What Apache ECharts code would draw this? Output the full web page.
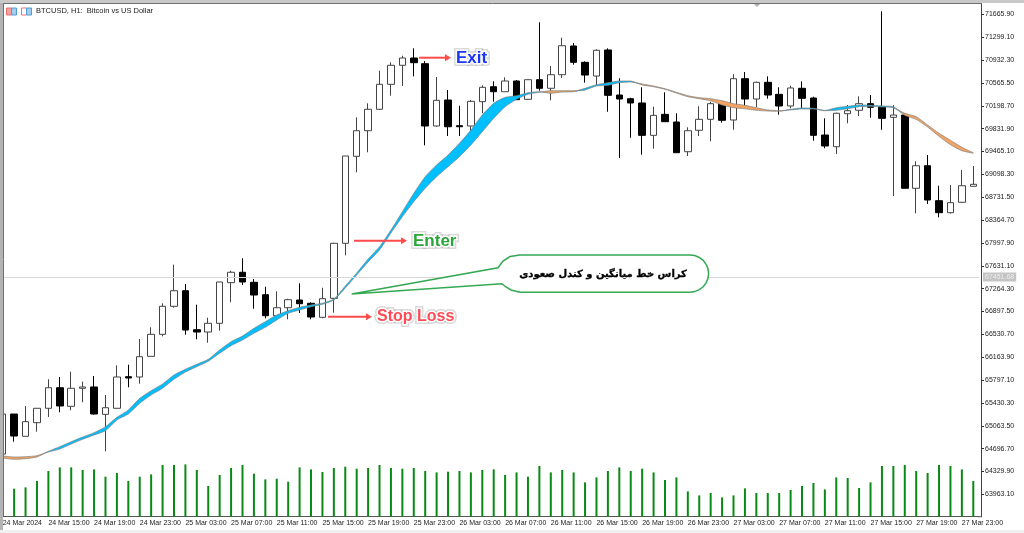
<!DOCTYPE html>
<html>
<head>
<meta charset="utf-8">
<style>
  html, body { margin: 0; padding: 0; background: #fff; }
  #chart { width: 1024px; height: 533px; }
</style>
<script src="https://cdn.jsdelivr.net/npm/echarts@6/dist/echarts.min.js"></script>
</head>
<body>
<div id="chart"></div>
<script>
const tickLabels = [
  '24 Mar 2024', '24 Mar 15:00', '24 Mar 19:00', '24 Mar 23:00',
  '25 Mar 03:00', '25 Mar 07:00', '25 Mar 11:00', '25 Mar 15:00', '25 Mar 19:00', '25 Mar 23:00',
  '26 Mar 03:00', '26 Mar 07:00', '26 Mar 11:00', '26 Mar 15:00', '26 Mar 19:00', '26 Mar 23:00',
  '27 Mar 03:00', '27 Mar 07:00', '27 Mar 11:00', '27 Mar 15:00', '27 Mar 19:00', '27 Mar 23:00'
];

const priceTicks = [
  71665.9, 71299.1, 70932.3, 70565.5, 70198.7, 69831.9, 69465.1, 69098.3, 68731.5, 68364.7, 67997.9,
  67631.1, 67264.3, 66897.5, 66530.7, 66163.9, 65797.1, 65430.3, 65063.5, 64696.7, 64329.9, 63963.1
];

const bidPrice = 67451.68;

const opens = [
  64610, 65252, 64894, 65113, 65344, 65674, 65376, 65665, 65686, 65247,
  65344, 65851, 65846, 66178, 66531, 66981, 67231, 66605, 66568, 66708,
  67360, 67527, 67366, 67167, 66830, 66958, 67082, 67029, 66804, 67109,
  67992, 69388, 69799, 70143, 70544, 70849, 70966, 70875, 69875, 70292,
  69880, 69875, 70265, 70505, 70425, 70597, 70303, 70618, 70480, 70698,
  71159, 70897, 70677, 71095, 70372, 70313, 70244, 69725, 70062, 69939,
  69462, 69806, 69982, 70233, 69971, 70634, 70308, 70576, 70383, 70196,
  70480, 70324, 69730, 69542, 70072, 70127, 70233, 70184, 70014, 70051,
  68875, 69237, 68676, 68483, 68650, 68907
];
const closes = [
  65252, 64899, 65129, 65344, 65674, 65381, 65665, 65686, 65252, 65353,
  65846, 65830, 66172, 66531, 66981, 67231, 66600, 66568, 66708, 67371,
  67527, 67371, 67162, 66830, 66958, 67087, 67023, 66809, 67103, 67992,
  69393, 69799, 70143, 70544, 70849, 70966, 70891, 69875, 70287, 69863,
  69863, 70271, 70496, 70425, 70597, 70297, 70618, 70480, 70698, 71163,
  70897, 70693, 71090, 70367, 70308, 70244, 69725, 70046, 69944, 69446,
  69799, 69982, 70233, 69966, 70634, 70308, 70576, 70372, 70196, 70485,
  70319, 69725, 69554, 70079, 70120, 70233, 70175, 69998, 70051, 68875,
  69237, 68687, 68483, 68644, 68916, 68939
];
const lows = [
  64546, 64808, 64894, 64968, 65204, 65280, 65312, 65440, 65241, 64654,
  65344, 65681, 65739, 66178, 66499, 66958, 66525, 66451, 66397, 66589,
  67045, 67323, 66942, 66788, 66793, 66772, 66873, 66772, 66788, 66878,
  67799, 69132, 69453, 70132, 70361, 70517, 70672, 69565, 69863, 69714,
  69714, 69783, 70079, 70265, 70425, 70292, 70292, 70441, 70287, 70645,
  70859, 70570, 70517, 70104, 69361, 69687, 69414, 69510, 69944, 69446,
  69393, 69714, 69629, 69928, 69815, 70196, 70175, 70313, 70056, 70159,
  70164, 69639, 69517, 69425, 69918, 70035, 70008, 69815, 68751, 68875,
  68473, 68623, 68409, 68470, 68639, 68907
];
const highs = [
  65268, 65252, 65381, 65349, 65809, 65846, 65931, 65771, 65862, 65557,
  66034, 66044, 66456, 66644, 67029, 67649, 67339, 67007, 66798, 67371,
  67552, 67751, 67419, 67295, 67222, 67103, 67350, 67045, 67279, 68000,
  69393, 70014, 70239, 70762, 70897, 71003, 71122, 70918, 70661, 70453,
  70200, 70292, 70528, 70592, 70656, 70613, 70618, 71539, 70838, 71292,
  71207, 70913, 71106, 71122, 70640, 70329, 70496, 70184, 70416, 70079,
  69854, 70191, 70265, 70265, 70705, 70741, 70586, 70672, 70496, 70521,
  70592, 70345, 69998, 70088, 70212, 70351, 70372, 71716, 70212, 70079,
  69308, 69409, 68916, 68928, 69169, 69233
];

const emaFast = [
  64546, 64525, 64535, 64562, 64654, 64728, 64808, 64883, 64952, 65048,
  65199, 65316, 65504, 65626, 65734, 65878, 65970, 66050, 66130, 66280,
  66413, 66504, 66628, 66734, 66841, 66910, 66965, 67002, 67029, 67098,
  67307, 67515, 67740, 67937, 68205, 68499, 68794, 69061, 69249, 69409,
  69597, 69810, 70051, 70239, 70335, 70361, 70409, 70425, 70400, 70420,
  70425, 70480, 70538, 70570, 70597, 70597, 70533, 70505, 70464, 70404,
  70345, 70313, 70281, 70212, 70168, 70152, 70127, 70115, 70111, 70143,
  70164, 70159, 70125, 70168, 70191, 70212, 70207, 70196, 70184, 70046,
  69982, 69859, 69709, 69575, 69478, 69437
];
const emaSlow = [
  64578, 64562, 64567, 64583, 64642, 64691, 64771, 64846, 64915, 64984,
  65156, 65252, 65424, 65557, 65665, 65809, 65926, 66012, 66098, 66227,
  66349, 66440, 66548, 66644, 66761, 66869, 66922, 66974, 67013, 67082,
  67275, 67483, 67692, 67884, 68157, 68419, 68660, 68875, 69061, 69221,
  69382, 69570, 69783, 69998, 70184, 70303, 70383, 70416, 70441, 70441,
  70441, 70453, 70517, 70528, 70570, 70581, 70549, 70517, 70473, 70416,
  70361, 70329, 70313, 70281, 70233, 70207, 70168, 70132, 70120, 70132,
  70148, 70148, 70120, 70127, 70152, 70184, 70191, 70180, 70168, 70079,
  70024, 69891, 69758, 69645, 69533, 69446
];

const volumes = [
  3000, 2800, 2930, 3570, 4570, 4930, 4930, 4670, 4730, 4000,
  4370, 3570, 4000, 4230, 5170, 5170, 5230, 4670, 3070, 4170,
  4870, 5170, 4300, 3730, 3800, 3500, 4930, 4730, 4470, 4870,
  5000, 4800, 4870, 5170, 4870, 4800, 4870, 4570, 4430, 4500,
  4570, 4430, 4670, 4730, 4170, 4430, 4000, 5070, 4430, 4670,
  4430, 3430, 3930, 4570, 4930, 4570, 4800, 4430, 3670, 3930,
  2530, 2130, 2370, 1930, 2130, 2830, 2370, 2370, 2370, 2670,
  3070, 3370, 2730, 3930, 3870, 2870, 3430, 5070, 5070, 5170,
  4570, 4370, 5170, 5070, 4730, 3570
];

const categories = opens.map((_, i) => (i % 4 === 0 ? tickLabels[i / 4] : ''));
const candles = opens.map((o, i) => [o, closes[i], lows[i], highs[i]]);

// band between the two averages: blue while the fast one is on top, orange otherwise
const bandBase = emaFast.map((v, i) => Math.min(v, emaSlow[i]));
const bandUp = emaFast.map((v, i) => Math.max(v - emaSlow[i], 0));
const bandDown = emaFast.map((v, i) => Math.max(emaSlow[i] - v, 0));

const AXIS_FONT = '"Liberation Sans", sans-serif';

// gray halo under a white one, then the coloured text
function glowText(x, y, text, color, size) {
  const font = 'bold ' + size + 'px "Liberation Sans", sans-serif';
  const layer = (fill, stroke, width, z) => ({
    type: 'text', x: x, y: y, z: z,
    style: { text: text, fill: fill, font: font, textVerticalAlign: 'middle', stroke: stroke, lineWidth: width }
  });
  return [
    layer('#fff', 'rgba(170,170,170,0.45)', 6, 60),
    layer('#fff', '#fff', 3, 61),
    { type: 'text', x: x, y: y, z: 62, style: { text: text, fill: color, font: font, textVerticalAlign: 'middle' } }
  ];
}

function arrow(x1, x2, y) {
  return [
    { type: 'line', z: 60, shape: { x1: x1, y1: y, x2: x2 - 4, y2: y }, style: { stroke: '#ff4b4b', lineWidth: 2 } },
    { type: 'polygon', z: 60, shape: { points: [[x2, y], [x2 - 6, y - 3.5], [x2 - 6, y + 3.5]] }, style: { fill: '#ff4b4b' } }
  ];
}

const calloutOutline = [
  [351.7, 294], [498, 267.7], [503, 261], [510, 256.5], [520, 255], [690, 255],
  [694.8, 255.6], [699.3, 257.5], [703.2, 260.4], [706.1, 264.3], [708, 268.8], [708.6, 273.6],
  [708, 278.4], [706.1, 282.9], [703.2, 286.8], [699.3, 289.7], [694.8, 291.6], [690, 292.2],
  [520, 292.2], [511, 290], [506, 287], [501.7, 283.7]
];

const chart = echarts.init(document.getElementById('chart'), null, { renderer: 'canvas' });

chart.setOption({
  backgroundColor: '#fff',
  animation: false,
  grid: { left: -3, top: 3, width: 982, height: 513.7, containLabel: false, outerBoundsMode: 'none' },
  xAxis: {
    type: 'category',
    data: categories,
    boundaryGap: true,
    axisLine: { lineStyle: { color: '#555', width: 1 } },
    axisTick: { alignWithLabel: true, interval: 3, length: 3, lineStyle: { color: '#333' } },
    axisLabel: {
      interval: 3, align: 'left', margin: 3, color: '#222',
      fontFamily: AXIS_FONT, fontSize: 7, hideOverlap: false
    },
    splitLine: { show: false }
  },
  yAxis: [
    {
      type: 'value', position: 'right', offset: 2, min: 63604, max: 71849, scale: true,
      axisLine: { show: true, lineStyle: { color: '#444', width: 1 } },
      axisTick: { show: true, length: 3, customValues: priceTicks, lineStyle: { color: '#333' } },
      axisLabel: {
        customValues: priceTicks, margin: 4, color: '#222',
        fontFamily: AXIS_FONT, fontSize: 7,
        formatter: (value) => value.toFixed(2)
      },
      splitLine: { show: false }
    },
    { type: 'value', min: 0, max: 51370, show: false, splitLine: { show: false } }
  ],
  series: [
    {
      name: 'Volume', type: 'bar', yAxisIndex: 1, data: volumes, barWidth: 2, z: 1,
      itemStyle: { color: '#0a8a14' }
    },
    {
      name: 'BTCUSD', type: 'candlestick', data: candles, barWidth: 7, z: 2, clip: false,
      itemStyle: {
        color: '#ffffff', color0: '#000000',
        borderColor: '#444444', borderColor0: '#000000', borderWidth: 1
      },
      markLine: {
        silent: true, symbol: 'none', animation: false,
        lineStyle: { color: '#d9d9d9', width: 1, type: 'solid' },
        label: {
          position: 'end', distance: 4, formatter: () => bidPrice.toFixed(2),
          color: '#ececec', backgroundColor: '#c4c4c4', padding: [1, 2],
          fontFamily: AXIS_FONT, fontSize: 7
        },
        data: [{ yAxis: bidPrice }]
      }
    },
    {
      name: 'bandBase', type: 'line', stack: 'band', data: bandBase, symbol: 'none', z: 3, smooth: 0.2,
      lineStyle: { width: 0, opacity: 0 }, areaStyle: { opacity: 0 }
    },
    {
      name: 'bandUp', type: 'line', stack: 'band', data: bandUp, symbol: 'none', z: 3, smooth: 0.2,
      lineStyle: { width: 0, opacity: 0 }, areaStyle: { color: '#00bfff', opacity: 1 }
    },
    {
      name: 'bandDown', type: 'line', stack: 'band', data: bandDown, symbol: 'none', z: 3, smooth: 0.2,
      lineStyle: { width: 0, opacity: 0 }, areaStyle: { color: '#f4a460', opacity: 1 }
    },
    {
      name: 'emaFast', type: 'line', data: emaFast, symbol: 'none', z: 4, smooth: 0.2,
      lineStyle: { color: '#808080', width: 0.7 }
    },
    {
      name: 'emaSlow', type: 'line', data: emaSlow, symbol: 'none', z: 4, smooth: 0.2,
      lineStyle: { color: '#808080', width: 0.7 }
    }
  ],
  graphic: [
    // window frame
    { type: 'rect', z: 50, shape: { x: 0, y: 0, width: 3, height: 533 }, style: { fill: '#b4b4b4' } },
    { type: 'rect', z: 50, shape: { x: 0, y: 0, width: 1024, height: 3 }, style: { fill: '#c8c8c8' } },
    { type: 'line', z: 51, shape: { x1: 3.5, y1: 3, x2: 3.5, y2: 516 }, style: { stroke: '#707070', lineWidth: 1 } },
    { type: 'line', z: 51, shape: { x1: 3, y1: 3.5, x2: 982, y2: 3.5 }, style: { stroke: '#707070', lineWidth: 1 } },
    { type: 'rect', z: 50, shape: { x: 0, y: 530, width: 1024, height: 3 }, style: { fill: '#f0f0f0' } },
    { type: 'line', z: 51, shape: { x1: 978, y1: 516.7, x2: 982, y2: 516.7 }, style: { stroke: '#555', lineWidth: 1 } },
    { type: 'polygon', z: 51, shape: { points: [[754, 4], [760, 4], [757, 7]] }, style: { fill: '#b0b0b0' } },

    // header icons and title
    { type: 'rect', z: 60, shape: { x: 6.5, y: 8, width: 5, height: 7 }, style: { fill: '#f4a3a3', stroke: '#e87070', lineWidth: 1 } },
    { type: 'rect', z: 60, shape: { x: 11.5, y: 8, width: 5, height: 7 }, style: { fill: '#a5cdec', stroke: '#4e9bd5', lineWidth: 1 } },
    { type: 'rect', z: 60, shape: { x: 21.5, y: 8, width: 5, height: 7 }, style: { fill: '#fff', stroke: '#ea7070', lineWidth: 1 } },
    { type: 'rect', z: 60, shape: { x: 26.5, y: 8, width: 5, height: 7 }, style: { fill: '#a5cdec', stroke: '#4e9bd5', lineWidth: 1 } },
    {
      type: 'text', x: 36, y: 11, z: 60,
      style: { text: 'BTCUSD, H1:  Bitcoin vs US Dollar', fill: '#222', font: '7.5px "Liberation Sans", sans-serif', textVerticalAlign: 'middle' }
    },

    // trade annotations
    ...arrow(419, 451, 57.7),
    ...glowText(456, 58, 'Exit', '#1a35f5', 17),
    ...arrow(354, 407, 240.7),
    ...glowText(413, 241, 'Enter', '#2aa53a', 17),
    ...arrow(328, 372, 316.7),
    ...glowText(377, 316.7, 'Stop Loss', '#ff4b55', 16),

    // callout
    {
      type: 'polygon', z: 60, shape: { points: calloutOutline },
      style: { fill: '#fff', stroke: '#34a853', lineWidth: 1.5 }
    },
    {
      type: 'text', x: 603, y: 274, z: 61,
      style: {
        text: 'کراس خط میانگین و کندل صعودی', fill: '#000', stroke: '#000', lineWidth: 0.3,
        font: 'bold 10px "DejaVu Sans", sans-serif', textAlign: 'center', textVerticalAlign: 'middle'
      }
    }
  ]
});
</script>
</body>
</html>
